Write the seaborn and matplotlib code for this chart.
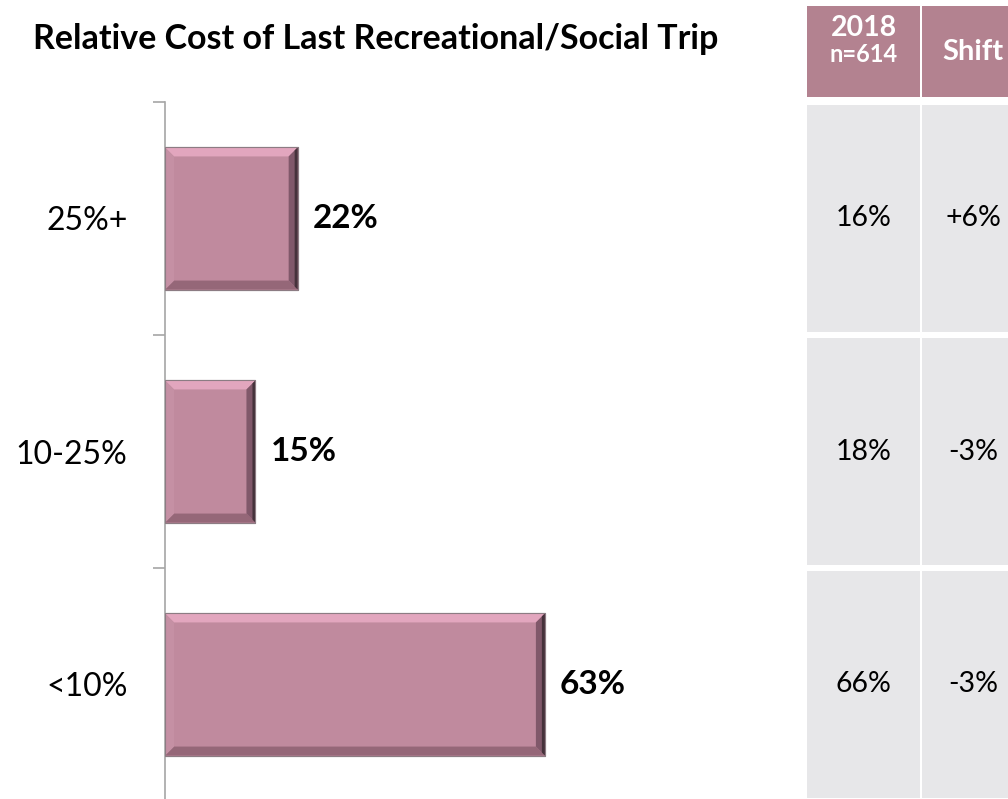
import matplotlib
matplotlib.use("Agg")
import matplotlib.pyplot as plt
from matplotlib.patches import Polygon, Rectangle
import seaborn as sns
import pandas as pd

# ---- data ----
categories = ["25%+", "10-25%", "<10%"]
values_2019 = [22, 15, 63]
values_2018 = [16, 18, 66]
shift = ["+6%", "-3%", "-3%"]
title = "Relative Cost of Last Recreational/Social Trip"
header_2018 = "2018"
header_n = "n=614"
header_shift = "Shift"

# ---- style ----
sns.set_theme(style="white")
plt.rcParams["font.family"] = ["Lato", "DejaVu Sans"]

FACE = "#C08A9E"
TOP_HI = "#E2A6BE"
LEFT_HI = "#C590A4"
BOTTOM_SH = "#956778"
RIGHT_SH = "#80586A"
EDGE_DARK = "#45323B"
HEADER = "#B38290"
CELL = "#E7E7E9"
AXIS_GREY = "#A6A6A6"

W, H = 1008, 799
fig = plt.figure(figsize=(W / 100, H / 100), dpi=100)
fig.patch.set_facecolor("white")

# bar axes: value 0 at x=165 px, 6.03 px per percent; bands of 233 px from y=102
ax_left, ax_top, band = 165, 102, 233
px_per_pct = 6.03
xmax = 100
ax_w = px_per_pct * xmax
ax_h = band * len(categories)
ax = fig.add_axes([ax_left / W, (H - ax_top - ax_h) / H, ax_w / W, ax_h / H])

df = pd.DataFrame({"category": categories, "share": values_2019})
sns.barplot(data=df, x="share", y="category", orient="h", width=0.61,
            color=FACE, saturation=1, edgecolor="#8C7C83", linewidth=0.8,
            ax=ax, zorder=2)

ax.set_xlim(0, xmax)
ax.set_ylim(len(categories) - 0.5, -0.5)
ax.set_xlabel("")
ax.set_ylabel("")
ax.set_xticks([])
for side in ["top", "right", "bottom"]:
    ax.spines[side].set_visible(False)
ax.spines["left"].set_color(AXIS_GREY)
ax.spines["left"].set_linewidth(1.2)
ax.patch.set_alpha(0)

# category labels at band centres, boundary ticks between bands
ax.set_yticks(range(len(categories)))
ax.set_yticklabels(categories, fontsize=23, color="black")
ax.tick_params(axis="y", which="major", length=0, pad=27)
ax.set_yticks([i - 0.5 for i in range(len(categories) + 1)], minor=True)
ax.tick_params(axis="y", which="minor", length=9, width=1.2,
               color=AXIS_GREY, direction="out", left=True)

# bevelled look on each bar
tx = 9 / px_per_pct
ty = 9 / band
for p in list(ax.patches):
    x0, x1 = p.get_x(), p.get_x() + p.get_width()
    ya, yb = sorted([p.get_y(), p.get_y() + p.get_height()])  # ya = visual top
    faces = [
        ([(x0, ya), (x1, ya), (x1 - tx, ya + ty), (x0 + tx, ya + ty)], TOP_HI),
        ([(x0, yb), (x1, yb), (x1 - tx, yb - ty), (x0 + tx, yb - ty)], BOTTOM_SH),
        ([(x0, ya), (x0 + tx, ya + ty), (x0 + tx, yb - ty), (x0, yb)], LEFT_HI),
        ([(x1, ya), (x1 - tx, ya + ty), (x1 - tx, yb - ty), (x1, yb)], RIGHT_SH),
    ]
    for pts, col in faces:
        ax.add_patch(Polygon(pts, closed=True, facecolor=col, edgecolor="none", zorder=3))
    # darker strip along the right edge
    ex = 3 / px_per_pct
    ax.add_patch(Polygon([(x1, ya), (x1 - ex, ya + ty / 3), (x1 - ex, yb - ty / 3), (x1, yb)],
                         closed=True, facecolor=EDGE_DARK, edgecolor="none", zorder=3))
    ax.add_patch(Rectangle((x0, ya), x1 - x0, yb - ya, facecolor="none",
                           edgecolor="#8C7C83", linewidth=0.8, zorder=4))

# value labels
for i, v in enumerate(values_2019):
    ax.text(v + 15 / px_per_pct, i, f"{v}%", va="center", ha="left",
            fontsize=24, fontweight="bold", color="black", zorder=5)

# title
fig.text(376 / W, 1 - 49 / H, title, ha="center", va="baseline",
         fontsize=24.5, fontweight="bold", color="black")

# ---- comparison table on the right ----
tab = fig.add_axes([0, 0, 1, 1], zorder=0)
tab.set_xlim(0, W)
tab.set_ylim(H, 0)
tab.axis("off")
tab.patch.set_alpha(0)

cols = [(807, 920), (922, 1024)]
header_top, header_bottom = 6, 97
for (a, b) in cols:
    tab.add_patch(Rectangle((a, header_top), b - a + (30 if b == 1024 else 0),
                            header_bottom - header_top, facecolor=HEADER, edgecolor="none"))
c0 = (cols[0][0] + cols[0][1]) / 2
c1 = (cols[1][0] + cols[1][1]) / 2
tab.text(c0, 28, header_2018, ha="center", va="center", fontsize=20.5,
         fontweight="bold", color="white")
tab.text(c0, 55, header_n, ha="center", va="center", fontsize=17,
         fontweight="bold", color="white")
tab.text(c1, 52, header_shift, ha="center", va="center", fontsize=21,
         fontweight="bold", color="white")

gap = 3
for i in range(len(categories)):
    r0 = ax_top + band * i + gap
    r1 = ax_top + band * (i + 1) - gap
    for (a, b) in cols:
        tab.add_patch(Rectangle((a, r0), b - a + (30 if b == 1024 else 0), r1 - r0,
                                facecolor=CELL, edgecolor="none"))
    yc = ax_top + band * (i + 0.5)
    tab.text(c0, yc, f"{values_2018[i]}%", ha="center", va="center",
             fontsize=20.5, color="black")
    tab.text(c1, yc, shift[i], ha="center", va="center", fontsize=20.5, color="black")

fig.savefig("out.png", dpi=100, facecolor="white")
